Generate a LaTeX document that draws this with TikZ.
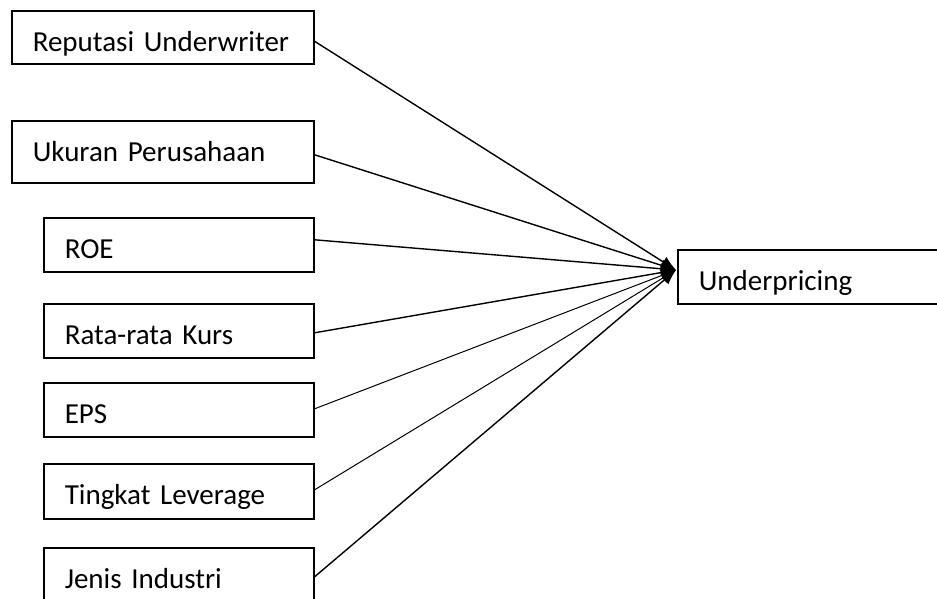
\documentclass[tikz,border=0pt]{standalone}
\usepackage{fontspec}
\setmainfont{Carlito}
\usetikzlibrary{arrows.meta}
\begin{document}
\begin{tikzpicture}[x=1pt,y=-1pt,
  vbox/.style={draw, line width=1.6pt, anchor=north west, inner xsep=21pt, inner ysep=0pt,
    align=left, font=\fontsize{29}{33}\selectfont, text height=41pt, text depth=13pt},
  link/.style={line width=1.4pt, -{Latex[length=15pt,width=12pt]}}]
\useasboundingbox (0,0) rectangle (937,599);
\node[vbox, text width=260pt, text depth=12pt] (b1) at (11,10) {Reputasi Underwriter};
\node[vbox, text width=260pt, text depth=21pt] (b2) at (11,120) {Ukuran Perusahaan};
\node[vbox, text width=228pt] (b3) at (43,217) {ROE};
\node[vbox, text width=228pt] (b4) at (43,303) {Rata-rata Kurs};
\node[vbox, text width=228pt] (b5) at (43,382) {EPS};
\node[vbox, text width=228pt, text depth=14pt] (b6) at (43,463) {Tingkat Leverage};
\node[vbox, text width=228pt] (b7) at (43,547) {Jenis Industri};
\node[vbox, text width=220pt] (u) at (677,249) {Underpricing};
\coordinate (tip) at (676,270);
\draw[link] ([yshift=-4pt]b1.east) -- (tip);
\draw[link] ([yshift=-3pt]b2.east) -- (tip);
\draw[link] ([yshift=5pt]b3.east) -- (tip);
\draw[link] ([yshift=-2pt]b4.east) -- (tip);
\draw[link, line width=1pt] ([yshift=1pt]b5.east) -- (tip);
\draw[link, line width=1pt] ([yshift=1.5pt]b6.east) -- (tip);
\draw[link] ([yshift=-2pt]b7.east) -- (tip);
\end{tikzpicture}
\end{document}
